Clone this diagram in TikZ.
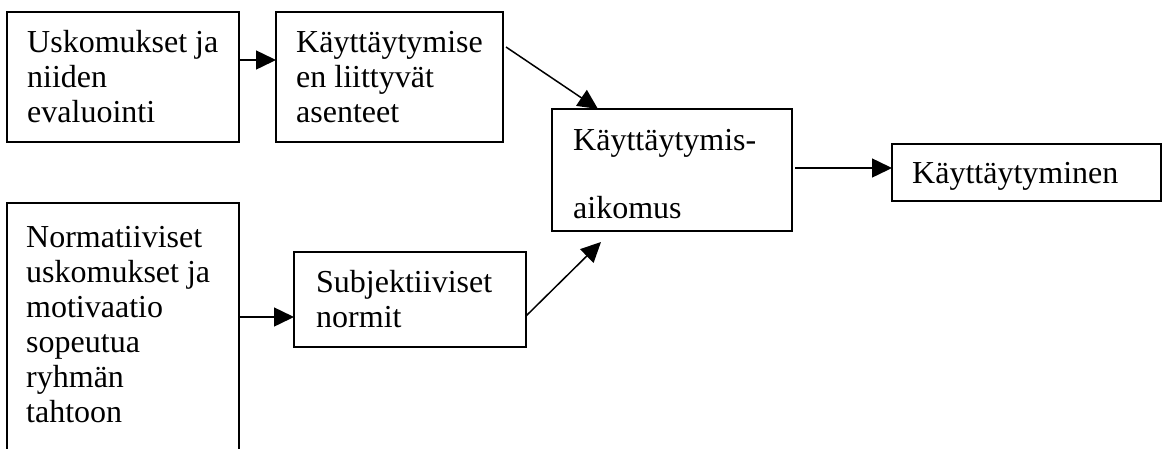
\documentclass[tikz,border=0pt]{standalone}
\usepackage{fontspec}
\setmainfont{Liberation Serif}
\usetikzlibrary{arrows.meta}
\begin{document}
\begin{tikzpicture}[x=1pt,y=-1pt,
  box/.style={draw, line width=1.5pt, inner sep=0pt, outer sep=0pt},
  % multi-line texts are placed by the baseline of their last line
  txt/.style={anchor=base west, inner sep=0pt, align=left,
    font=\fontsize{32}{35}\selectfont},
  arr/.style={line width=1.5pt, -{Triangle[length=20pt,width=19pt]}}]
\useasboundingbox (0,0) rectangle (1162,448);
\clip (0,0) rectangle (1162,448);

% boxes
\node[box, minimum width=232pt, minimum height=130pt] (b1) at (123,77) {};
\node[box, minimum width=227pt, minimum height=130pt] (b2) at (389.5,77) {};
\node[box, minimum width=240pt, minimum height=122pt] (b3) at (672,170) {};
\node[box, minimum width=269pt, minimum height=57pt] (b4) at (1026.5,172.5) {};
\node[box, minimum width=232pt, minimum height=267pt] (b5) at (123,336.5) {};
\node[box, minimum width=232pt, minimum height=95pt] (b6) at (410,299.5) {};

% texts
\node[txt] (t1) at (27,122) {Uskomukset ja\\niiden\\evaluointi};
\node[txt] (t2) at (296,122) {Käyttäytymise\\en liittyvät\\asenteet};
\node[txt, font=\fontsize{32}{68}\selectfont] (t3) at (573,218) {Käyttäytymis-\\aikomus};
\node[txt] (t4) at (912,183) {Käyttäytyminen};
\node[txt] (t5) at (26,422) {Normatiiviset\\uskomukset ja\\motivaatio\\sopeutua\\ryhmän\\tahtoon};
\node[txt] (t6) at (316,327) {Subjektiiviset\\normit};

% connectors
\coordinate (p1) at ([yshift=17pt]b2.west);
\draw[arr] (b1.east |- p1) -- (p1);
\draw[arr] ([shift={(3pt,-35pt)}]b2.north east) -- ([xshift=46pt]b3.north west);
\coordinate (p3) at ([yshift=4.5pt]b4.west);
\draw[arr] ([xshift=3pt]b3.east |- p3) -- (p3);
\coordinate (p4) at ([yshift=-17.5pt]b6.west);
\draw[arr] (b5.east |- p4) -- (p4);
\draw[arr] ([yshift=-16.5pt]b6.east) -- ([shift={(49pt,-11pt)}]b3.south west);
\end{tikzpicture}
\end{document}
